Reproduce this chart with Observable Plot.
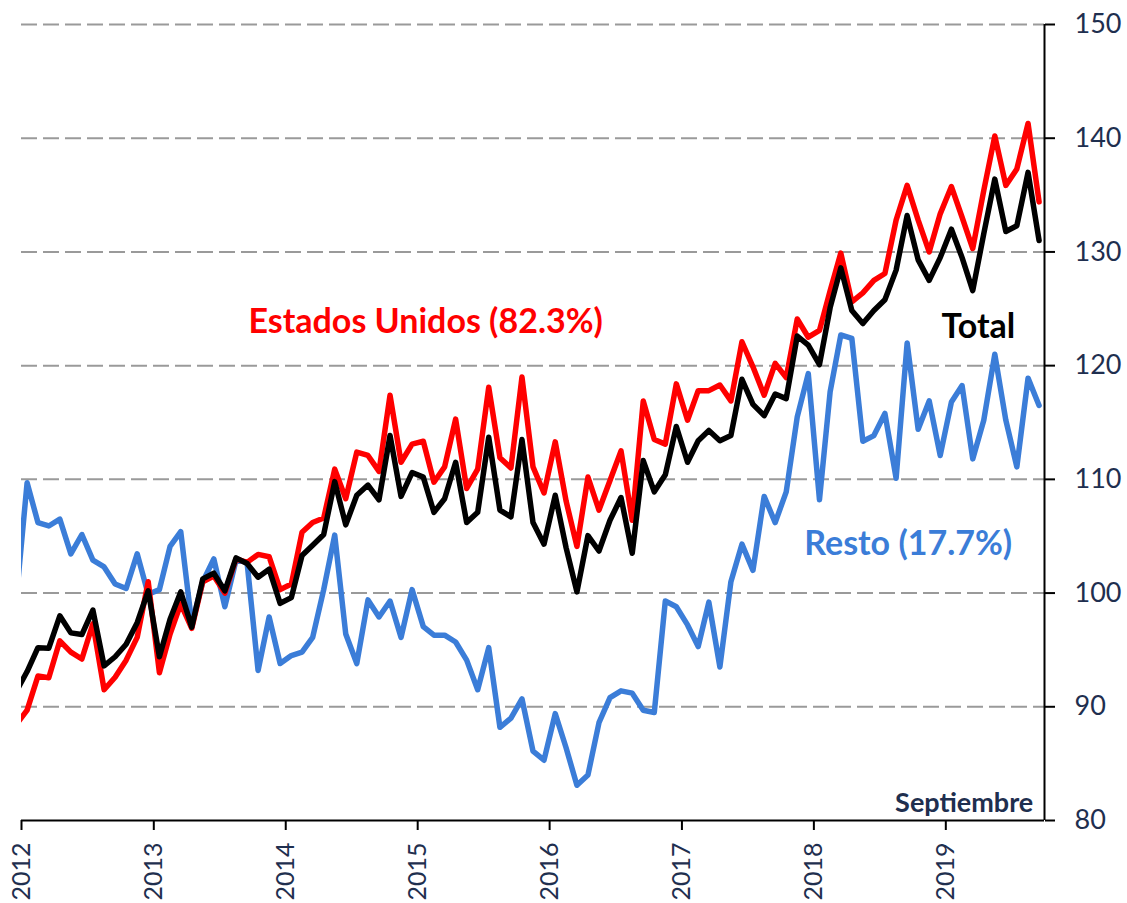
<!DOCTYPE html>
<html><head><meta charset="utf-8">
<script src="https://cdn.jsdelivr.net/npm/d3@7"></script>
<script src="https://cdn.jsdelivr.net/npm/@observablehq/plot@0.6"></script>
<style>html,body{margin:0;padding:0;background:#fff;} svg{display:block;}</style>
</head><body><div id="chart"></div>
<script>
// Monthly index series, first value = December 2011, last = September 2019
const firstMonth = [2011, 11];
const estadosUnidos = [88.4,
  89.7, 92.7, 92.55, 95.8, 94.8, 94.2, 97.3, 91.5, 92.6, 94.1, 96.1, 101.0,
  93.0, 96.4, 99.05, 96.9, 101.0, 101.5, 100.0, 103.0, 102.7, 103.4, 103.2, 100.3,
  100.8, 105.35, 106.2, 106.6, 110.9, 108.3, 112.4, 112.1, 110.7, 117.4, 111.5, 113.1,
  113.35, 109.75, 111.1, 115.3, 109.2, 110.9, 118.1, 111.9, 111.0, 119.0, 111.1, 108.8,
  113.3, 108.1, 104.1, 110.2, 107.3, 109.9, 112.5, 106.4, 116.9, 113.5, 113.1, 118.4,
  115.2, 117.8, 117.8, 118.3, 116.9, 122.1, 119.9, 117.4, 120.2, 118.95, 124.1, 122.5,
  123.1, 126.6, 129.9, 125.6, 126.4, 127.5, 128.1, 132.8, 135.85, 132.8, 130.0, 133.35,
  135.75, 133.05, 130.3, 135.4, 140.2, 135.85, 137.3, 141.3, 134.4];
const resto = [99.1,
  109.7, 106.2, 105.9, 106.5, 103.45, 105.15, 102.9, 102.3, 100.8, 100.4, 103.45, 99.9,
  100.3, 104.1, 105.4, 97.3, 101.0, 103.0, 98.8, 102.9, 102.7, 93.2, 97.9, 93.8,
  94.5, 94.8, 96.1, 100.3, 105.1, 96.4, 93.8, 99.4, 97.9, 99.3, 96.1, 100.3,
  97.05, 96.3, 96.3, 95.7, 94.1, 91.5, 95.2, 88.2, 89.0, 90.7, 86.1, 85.3,
  89.4, 86.4, 83.1, 84.0, 88.6, 90.8, 91.4, 91.2, 89.7, 89.5, 99.3, 98.8,
  97.2, 95.3, 99.2, 93.5, 101.0, 104.3, 102.0, 108.5, 106.2, 108.9, 115.5, 119.3,
  108.2, 117.7, 122.7, 122.4, 113.35, 113.85, 115.8, 110.1, 122.0, 114.4, 116.9, 112.1,
  116.8, 118.25, 111.8, 115.2, 121.0, 115.2, 111.1, 118.9, 116.5];
const total = [91.3,
  93.1, 95.2, 95.15, 98.0, 96.5, 96.35, 98.5, 93.6, 94.4, 95.5, 97.4, 100.2,
  94.4, 97.7, 100.1, 97.0, 101.25, 101.75, 100.2, 103.1, 102.6, 101.4, 102.1, 99.1,
  99.6, 103.3, 104.2, 105.15, 109.8, 106.0, 108.6, 109.5, 108.2, 113.85, 108.5, 110.6,
  110.2, 107.1, 108.3, 111.5, 106.2, 107.1, 113.7, 107.3, 106.7, 113.5, 106.2, 104.3,
  108.6, 104.0, 100.1, 105.05, 103.7, 106.4, 108.4, 103.5, 111.65, 108.9, 110.4, 114.65,
  111.5, 113.4, 114.3, 113.4, 113.85, 118.8, 116.6, 115.6, 117.5, 117.1, 122.6, 121.8,
  120.1, 125.1, 128.6, 124.85, 123.7, 124.85, 125.8, 128.4, 133.2, 129.3, 127.5, 129.5,
  132.0, 129.5, 126.6, 131.6, 136.4, 131.8, 132.3, 137.0, 131.0];
const yearTicks = [2012, 2013, 2014, 2015, 2016, 2017, 2018, 2019];
const yTicks = [80, 90, 100, 110, 120, 130, 140, 150];
const gridValues = [90, 100, 110, 120, 130, 140, 150];
const xDomainEnd = [2019, 9];
const labelEU = {text: "Estados Unidos (82.3%)", date: [2015, 0, 23], value: 123.8};
const labelTotal = {text: "Total", date: [2019, 3, 1], value: 123.4};
const labelResto = {text: "Resto (17.7%)", date: [2018, 8, 19], value: 104.3};
const labelNote = {text: "Septiembre", date: [2019, 7, 31], value: 81.5};

const start = new Date(Date.UTC(firstMonth[0], firstMonth[1], 1));
const midMonth = i => new Date((+d3.utcMonth.offset(start, i) + +d3.utcMonth.offset(start, i + 1)) / 2);
const toRows = arr => arr.map((v, i) => ({date: midMonth(i), value: v}));
const rowsEU = toRows(estadosUnidos), rowsResto = toRows(resto), rowsTotal = toRows(total);
const D = a => new Date(Date.UTC(...a));
const navy = "#1f2f4f";
const font = "Lato, 'Open Sans', sans-serif";
const lab = (l, opts) => Plot.text([l], {x: d => D(d.date), y: "value", text: "text", fontWeight: "bold", fontFamily: font, ...opts});

const chart = Plot.plot({
  width: 1127, height: 903,
  marginLeft: 21, marginRight: 83, marginTop: 24, marginBottom: 83,
  style: {fontFamily: font, background: "white", color: navy},
  x: {type: "utc", domain: [D([yearTicks[0], 0, 1]), D([...xDomainEnd, 1])]},
  y: {domain: [yTicks[0], yTicks[yTicks.length - 1]]},
  marks: [
    Plot.ruleY(gridValues, {stroke: "#9a9a9a", strokeWidth: 2, strokeDasharray: "16,6"}),
    Plot.line(rowsResto, {x: "date", y: "value", stroke: "#3b7dd8", strokeWidth: 5.5, strokeLinejoin: "round", clip: true}),
    Plot.line(rowsEU, {x: "date", y: "value", stroke: "#ff0000", strokeWidth: 5.5, strokeLinejoin: "round", clip: true}),
    Plot.line(rowsTotal, {x: "date", y: "value", stroke: "#000000", strokeWidth: 5.5, strokeLinejoin: "round", clip: true}),
    Plot.ruleY([yTicks[0]], {stroke: "black", strokeWidth: 2}),
    Plot.ruleX([D([...xDomainEnd, 1])], {stroke: "black", strokeWidth: 2}),
    Plot.axisX({ticks: yearTicks.map(y => D([y, 0, 1])), tickFormat: "%Y", tickRotate: -90, tickSize: 10, tickPadding: 12,
      fontSize: 25, stroke: "black", fill: navy, strokeWidth: 2, label: null}),
    Plot.axisY({anchor: "right", ticks: yTicks, tickSize: 10, tickPadding: 20, fontSize: 27,
      stroke: "black", fill: navy, strokeWidth: 2, label: null}),
    lab(labelEU, {fill: "#ff0000", fontSize: 34}),
    lab(labelTotal, {fill: "#000000", fontSize: 34}),
    lab(labelResto, {fill: "#3b7dd8", fontSize: 34}),
    lab(labelNote, {fill: navy, fontSize: 27, textAnchor: "end"})
  ]
});
document.getElementById("chart").appendChild(chart);
</script>
</body></html>
